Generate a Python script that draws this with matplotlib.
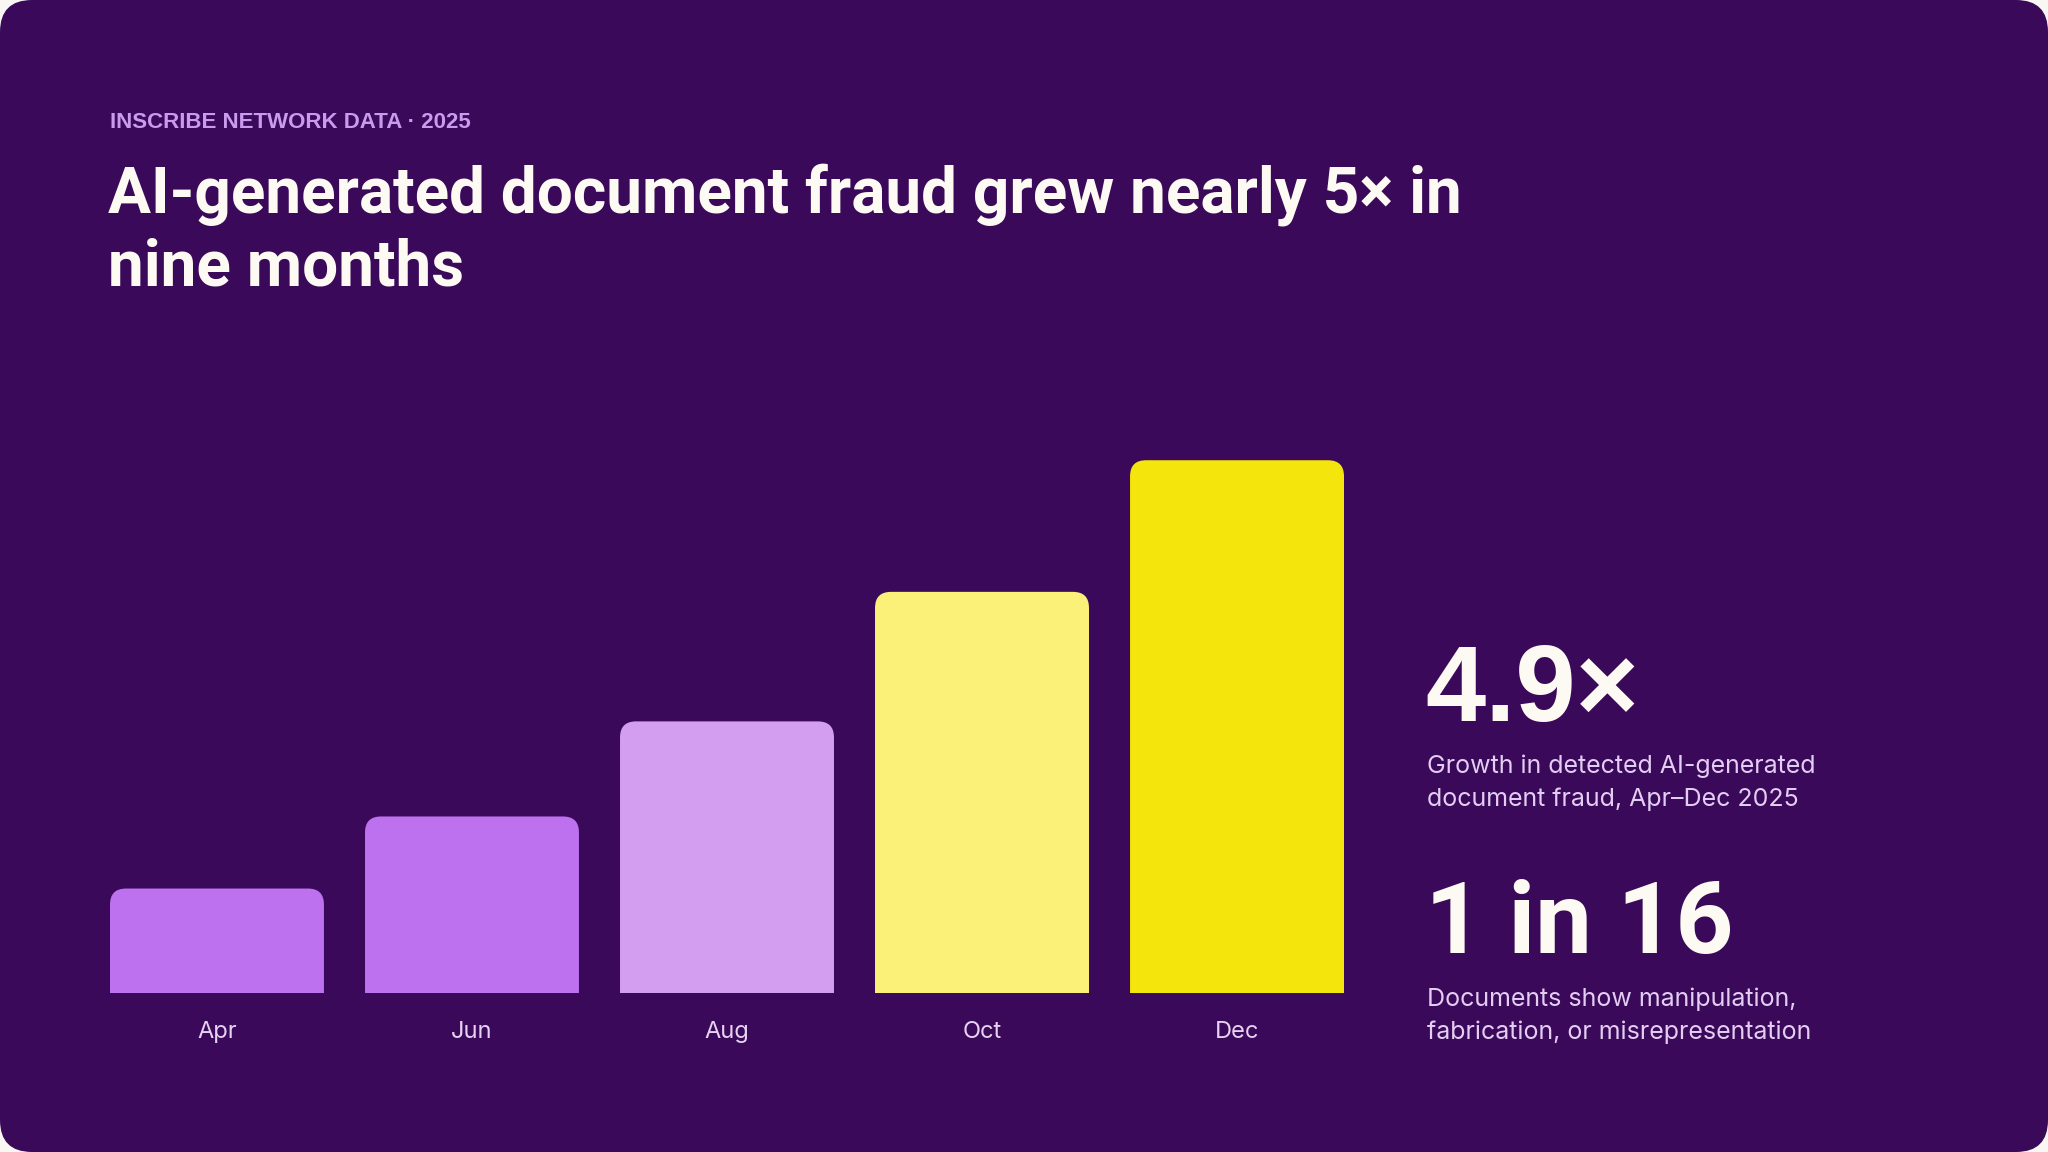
import matplotlib
matplotlib.use("Agg")
from matplotlib import pyplot as plt
from matplotlib import font_manager
from matplotlib.patches import FancyBboxPatch

# data
months = ["Apr", "Jun", "Aug", "Oct", "Dec"]
index_values = [100, 169, 260, 384, 510]  # detected AI-generated fraud, Apr = 100
bar_colors = ["#BD71EE", "#BD71EE", "#D39EF0", "#FBF179", "#F4E50D"]

kicker = "INSCRIBE NETWORK DATA · 2025"
title_lines = ["AI-generated document fraud grew nearly 5× in", "nine months"]
stat_1 = "4.9×"
stat_1_caption = ["Growth in detected AI-generated", "document fraud, Apr–Dec 2025"]
stat_2 = "1 in 16"
stat_2_caption = ["Documents show manipulation,", "fabrication, or misrepresentation"]

BG = "#3B0959"
OUTER = "#F9F7F3"
CREAM = "#FCFAF3"
W, H = 2048, 1152


def has_font(name):
    try:
        font_manager.findfont(font_manager.FontProperties(family=name), fallback_to_default=False)
        return True
    except Exception:
        return False


HEAD = "Roboto" if has_font("Roboto") else "Liberation Sans"
BODY = "Inter" if has_font("Inter") else "Liberation Sans"


def fx(px):
    return px / W


def fy(px):
    # pixel measured from top -> figure fraction
    return 1 - px / H


fig = plt.figure(figsize=(W / 100, H / 100), dpi=100)
fig.patch.set_facecolor(OUTER)

# purple card with rounded corners
card = FancyBboxPatch((0, 0), 1, 1, boxstyle=f"round,pad=0,rounding_size={32 / W}",
                      mutation_aspect=W / H, transform=fig.transFigure,
                      facecolor=BG, edgecolor="none", zorder=0)
fig.add_artist(card)

# bar chart axes
ax_left, ax_right, ax_base, ax_top = 110, 1344, 993, 408
ax = fig.add_axes([fx(ax_left), fy(ax_base), fx(ax_right - ax_left), (ax_base - ax_top) / H])
ax.set_facecolor("none")
for s in ax.spines.values():
    s.set_visible(False)

bar_w = 0.839
x = list(range(len(months)))
ax.set_xlim(-bar_w / 2, len(months) - 1 + bar_w / 2)
ax.set_ylim(0, 560)

px_per_x = (ax_right - ax_left) / (ax.get_xlim()[1] - ax.get_xlim()[0])
px_per_y = (ax_base - ax_top) / (ax.get_ylim()[1] - ax.get_ylim()[0])
r_px = 16
rx = r_px / px_per_x
ry = r_px / px_per_y

for xi, v, c in zip(x, index_values, bar_colors):
    # extend below zero so the bottom corners get clipped away
    bar = FancyBboxPatch((xi - bar_w / 2, -ry * 2), bar_w, v + ry * 2,
                         boxstyle=f"round,pad=0,rounding_size={rx}",
                         mutation_aspect=ry / rx, facecolor=c, edgecolor="none")
    ax.add_patch(bar)

ax.set_xticks(x)
ax.set_xticklabels(months, fontsize=17, color="#E6D3F2", family=BODY)
ax.tick_params(axis="x", length=0, pad=20)
ax.set_yticks([])

# header
fig.text(fx(110), fy(128), kicker, fontsize=16, fontweight="bold", color="#C99AEE",
         family="Liberation Sans", va="baseline")
fig.text(fx(108), fy(213), title_lines[0], fontsize=46, fontweight="bold", color=CREAM,
         family=HEAD, va="baseline")
fig.text(fx(108), fy(285), title_lines[1], fontsize=46, fontweight="bold", color=CREAM,
         family=HEAD, va="baseline")

# stats on the right
fig.text(fx(1425), fy(721), stat_1, fontsize=78, fontweight="bold", color=CREAM,
         family="Liberation Sans", va="baseline")
for i, line in enumerate(stat_1_caption):
    fig.text(fx(1427), fy(773 + 33 * i), line, fontsize=18, color="#E3CDF3",
             family=BODY, va="baseline")

fig.text(fx(1425), fy(953), stat_2, fontsize=73, fontweight="bold", color=CREAM,
         family=HEAD, va="baseline")
for i, line in enumerate(stat_2_caption):
    fig.text(fx(1427), fy(1006 + 33 * i), line, fontsize=18, color="#E3CDF3",
             family=BODY, va="baseline")

fig.savefig("out.png", dpi=100, facecolor=OUTER)
